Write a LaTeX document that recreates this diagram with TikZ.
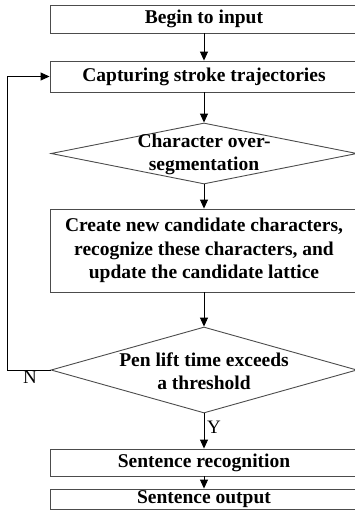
\documentclass[tikz,border=0pt]{standalone}
\usepackage{fontspec}
\setmainfont{Liberation Serif}
\usetikzlibrary{shapes.geometric,arrows.meta}
\begin{document}
\begin{tikzpicture}[x=1pt,y=-1pt,
  line/.style={draw=black!70,line width=0.9pt},
  procbox/.style={line,rectangle,minimum width=308pt,inner sep=0pt,anchor=center,
    font=\fontsize{19.5}{23.5}\selectfont\bfseries,align=center},
  decbox/.style={line,diamond,minimum width=306pt,inner sep=0pt,anchor=center},
  dtext/.style={font=\fontsize{19.5}{23}\selectfont\bfseries,align=center,inner sep=0pt},
  flow/.style={draw=black,line width=0.9pt,-{Triangle[length=9pt,width=8pt]}},
  lab/.style={font=\fontsize{19}{22}\selectfont,inner sep=0pt}]
\useasboundingbox (0,0) rectangle (355,520);
\clip (0,0) rectangle (355,520);
\node[procbox,minimum height=28pt] (b1) at (204,19) {Begin to input};
\node[procbox,minimum height=31pt] (b2) at (204,76.5) {Capturing stroke trajectories};
\node[decbox,minimum height=61pt] (d1) at (204,153.5) {};
\node[dtext] (d1t) at (204,154) {Character over-\\segmentation};
\node[procbox,minimum height=83pt] (b3) at (204,250.5) {Create new candidate characters,\\recognize these characters, and\\update the candidate lattice};
\node[decbox,minimum height=86pt] (d2) at (204,370) {};
\node[dtext] (d2t) at (204,371) {Pen lift time exceeds\\a threshold};
\node[procbox,minimum height=27pt] (b4) at (204,462.5) {Sentence recognition};
\node[procbox,minimum height=20pt] (b5) at (204,499) {Sentence output};
\coordinate (lb) at (7,370);
\coordinate (lt) at (7,76.5);
\draw[flow] (b1) -- (b2);
\draw[flow] (b2) -- (d1.north);
\draw[flow] (d1.south) -- (b3);
\draw[flow] (b3) -- (d2.north);
\draw[flow] (d2.south) -- (b4);
\draw[flow] (b4) -- (b5);
\draw[flow] (d2.west) -- (lb) -- (lt) -- (b2.west);
\node[lab] (nl) at (30,377) {N};
\node[lab] (yl) at (214,427) {Y};
\end{tikzpicture}
\end{document}
